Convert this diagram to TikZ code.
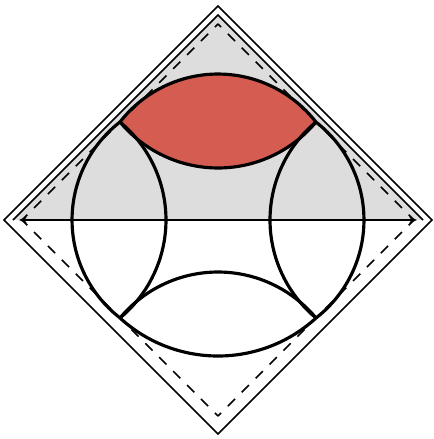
\documentclass[tikz,border=0pt]{standalone}
\usepackage{tikz}
\usetikzlibrary{arrows.meta}
\definecolor{regiongrey}{RGB}{221,221,221}
\definecolor{lensred}{RGB}{212,92,80}

\begin{document}
\begin{tikzpicture}[
    x=0.02cm, y=0.02cm,
    edge/.style={line width=0.9pt},
    horizon/.style={line width=0.9pt, dash pattern=on 5.8pt off 5.4pt, dash phase=3.3pt},
    bound/.style={line width=1.8pt},
    arr/.style={<->, >={Stealth[length=4.5pt, width=3.8pt]}, line width=1.4pt}
]
\useasboundingbox (-218,-219) rectangle (215,220);
% outer diamond and the inner line of the upper edges
\coordinate (top)    at (0,214);
\coordinate (right)  at (214,0);
\coordinate (bottom) at (0,-214);
\coordinate (left)   at (-214,0);
\coordinate (itop)   at (0,205);
\coordinate (iright) at (205,0);
\coordinate (ileft)  at (-205,0);
% dashed diamond
\coordinate (dtop)    at (0,196);
\coordinate (dright)  at (196,0);
\coordinate (dbottom) at (0,-196);
\coordinate (dleft)   at (-196,0);
% corners of the arcs
\coordinate (nw) at (-98,98);
\coordinate (ne) at (98,98);
\coordinate (se) at (98,-98);
\coordinate (sw) at (-98,-98);
% arrow ends
\coordinate (al) at (-199,0);
\coordinate (ar) at (199,0);

\fill[regiongrey] (ileft) -- (itop) -- (iright) -- cycle;
\fill[lensred] (nw) arc[start angle=142.18, delta angle=-104.36, radius=124]
               arc[start angle=320.28, delta angle=-100.56, radius=127.4] -- cycle;

\draw[edge] (top) -- (right) -- (bottom) -- (left) -- cycle;
\draw[edge] (ileft) -- (itop) -- (iright);

\draw[horizon] (dtop) -- (dright);
\draw[horizon] (dtop) -- (dleft);
\draw[horizon] (dbottom) -- (dright);
\draw[horizon] (dbottom) -- (dleft);

\draw[arr] (al) -- (ar);

% outer arcs
\draw[bound] (nw) arc[start angle=142.18, delta angle=-104.36, radius=124];
\draw[bound] (nw) arc[start angle=127.82, delta angle=104.36, radius=124];
\draw[bound] (se) arc[start angle=-52.18, delta angle=104.36, radius=124];
\draw[bound] (sw) arc[start angle=227.61, delta angle=84.78, radius=145.4];
% inner arcs
\draw[bound] (ne) arc[start angle=320.28, delta angle=-100.56, radius=127.4];
\draw[bound] (nw) arc[start angle=50.28, delta angle=-100.56, radius=127.4];
\draw[bound] (ne) arc[start angle=129.72, delta angle=100.56, radius=127.4];
\draw[bound] (sw) arc[start angle=140.28, delta angle=-100.56, radius=127.4];
\end{tikzpicture}
\end{document}
